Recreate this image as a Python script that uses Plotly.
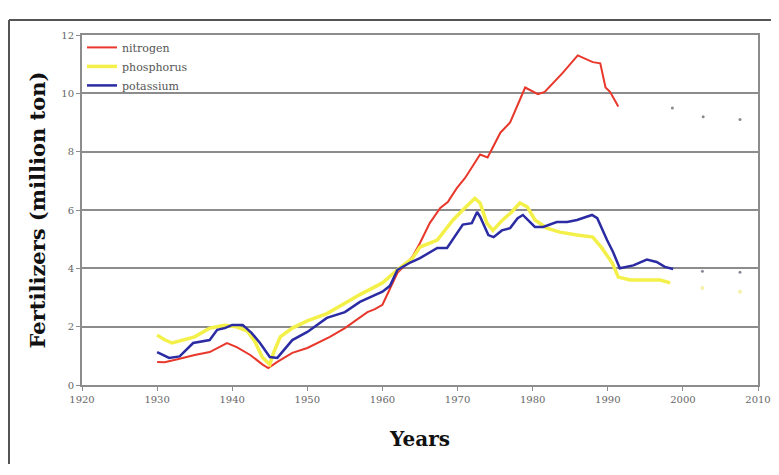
import plotly.graph_objects as go

# ---- data ----
n_years = [1930, 1931, 1933, 1935, 1937, 1939.3, 1940.6, 1942.4, 1944.1, 1944.8, 1946, 1948, 1950,
           1953, 1955, 1958, 1959, 1960, 1961, 1962, 1963, 1964, 1965, 1966.3, 1967.7, 1968.7, 1969.9,
           1971, 1972, 1973, 1974, 1975.7, 1977, 1979, 1980.7, 1981.6, 1984, 1986, 1988, 1989,
           1989.7, 1990.3, 1991.4]
n_vals = [0.79, 0.78, 0.9, 1.03, 1.13, 1.44, 1.3, 1.03, 0.69, 0.58, 0.79, 1.1, 1.27,
          1.65, 1.95, 2.5, 2.6, 2.75, 3.3, 3.85, 4.1, 4.4, 4.87, 5.55, 6.07, 6.27, 6.75,
          7.1, 7.5, 7.9, 7.8, 8.65, 9.0, 10.2, 9.97, 10.05, 10.7, 11.3, 11.07, 11.03,
          10.2, 10.05, 9.55]
n_pt_years = [1998.6, 2002.7, 2007.6]
n_pt_vals = [9.5, 9.2, 9.1]

p_years = [1930, 1931, 1932, 1933, 1935, 1937, 1939, 1940.5, 1942, 1943, 1944, 1945, 1945.5, 1946.4,
           1948, 1950, 1952.6, 1955, 1957, 1960, 1962, 1964, 1965, 1967.3, 1969.4, 1970.7, 1972.3,
           1973, 1973.9, 1974.7, 1976, 1977.2, 1978.3, 1979.3, 1980.3, 1981.9, 1983.6, 1985.9,
           1988, 1989.2, 1990.6, 1991.4, 1993, 1997, 1998.3]
p_vals = [1.71, 1.55, 1.44, 1.5, 1.65, 1.95, 2.05, 2.0, 1.85, 1.5, 0.95, 0.7, 1.1, 1.65,
          1.95, 2.2, 2.45, 2.8, 3.1, 3.5, 3.95, 4.35, 4.73, 4.97, 5.66, 6.0, 6.4,
          6.24, 5.55, 5.3, 5.66, 5.93, 6.24, 6.1, 5.66, 5.38, 5.24, 5.14,
          5.07, 4.7, 4.18, 3.7, 3.6, 3.6, 3.5]
p_pt_years = [2002.6, 2007.6]
p_pt_vals = [3.33, 3.2]

k_years = [1930, 1931.6, 1933, 1934.8, 1937, 1938, 1939, 1940, 1941.4, 1942.6, 1943.7, 1945, 1946,
           1948, 1950, 1952.6, 1955, 1957, 1960, 1961, 1962, 1963.7, 1965, 1967.3, 1968.6, 1970.7,
           1971.9, 1972.6, 1973, 1974.1, 1974.8, 1975.9, 1977, 1978, 1978.7, 1980.3, 1981.4,
           1983.2, 1984.6, 1985.9, 1987.9, 1988.6, 1989.9, 1990.7, 1991.6, 1993.4, 1995.2,
           1996.5, 1997.6, 1998.7]
k_vals = [1.13, 0.93, 0.98, 1.44, 1.54, 1.89, 1.95, 2.06, 2.06, 1.78, 1.44, 0.96, 0.93,
          1.54, 1.82, 2.3, 2.5, 2.85, 3.2, 3.4, 3.95, 4.2, 4.35, 4.7, 4.7, 5.5,
          5.55, 5.93, 5.77, 5.14, 5.07, 5.3, 5.38, 5.72, 5.83, 5.42, 5.42,
          5.59, 5.59, 5.66, 5.83, 5.72, 4.97, 4.56, 4.0, 4.1, 4.3,
          4.22, 4.05, 3.98]
k_pt_years = [2002.6, 2007.6]
k_pt_vals = [3.9, 3.87]

x_ticks = [1920, 1930, 1940, 1950, 1960, 1970, 1980, 1990, 2000, 2010]
y_ticks = [0, 2, 4, 6, 8, 10, 12]

SERIF = "DejaVu Serif, Liberation Serif, serif"

fig = go.Figure()
fig.add_trace(go.Scatter(x=n_years, y=n_vals, mode="lines", name="nitrogen",
                         line=dict(color="#e8372b", width=2)))
fig.add_trace(go.Scatter(x=p_years, y=p_vals, mode="lines", name="phosphorus",
                         line=dict(color="#f4f04a", width=3.5)))
fig.add_trace(go.Scatter(x=k_years, y=k_vals, mode="lines", name="potassium",
                         line=dict(color="#2b2ba3", width=2.5)))
fig.add_trace(go.Scatter(x=n_pt_years, y=n_pt_vals, mode="markers", showlegend=False,
                         marker=dict(color="#8a8a8a", size=3)))
fig.add_trace(go.Scatter(x=p_pt_years, y=p_pt_vals, mode="markers", showlegend=False,
                         marker=dict(color="#f4f2a8", size=4)))
fig.add_trace(go.Scatter(x=k_pt_years, y=k_pt_vals, mode="markers", showlegend=False,
                         marker=dict(color="#8a8a9a", size=3)))

# outer frame (page pixel -> paper conversion; plot area on page is x 82..758, y 35..385)
def px(xp):
    return (xp - 82) / 676.0

def py(yp):
    return (385 - yp) / 350.0

shapes = [
    dict(type="line", xref="paper", yref="paper", x0=px(9), x1=px(9), y0=py(20), y1=py(464),
         line=dict(color="#555555", width=2)),
    dict(type="line", xref="paper", yref="paper", x0=px(9), x1=px(790), y0=py(20), y1=py(20),
         line=dict(color="#555555", width=2)),
]

# the page body has an 8px margin, so figure coords = page coords - 8
fig.update_layout(
    width=779, height=475,
    margin=dict(l=74, r=29, t=27, b=98),
    paper_bgcolor="white", plot_bgcolor="white",
    shapes=shapes,
    showlegend=True,
    legend=dict(x=0.0, y=1.006, xanchor="left", yanchor="top", bgcolor="rgba(0,0,0,0)",
                font=dict(family=SERIF, size=11, color="#555555"),
                tracegroupgap=0, itemwidth=30),
    xaxis=dict(range=[1920, 2010], tickvals=x_ticks, ticktext=[str(v) for v in x_ticks],
               showgrid=False, zeroline=False, automargin=False,
               showline=True, linecolor="#8c8c8c", linewidth=2, mirror=True,
               ticks="outside", ticklen=4, tickcolor="#8c8c8c",
               tickfont=dict(family=SERIF, size=10, color="#666666"),
               title=dict(text="<b>Years</b>", font=dict(family=SERIF, size=20, color="#111111"),
                          standoff=28)),
    yaxis=dict(range=[0, 12], tickvals=y_ticks, ticktext=[str(v) for v in y_ticks],
               showgrid=True, gridcolor="#8c8c8c", gridwidth=2, zeroline=False, automargin=False,
               showline=True, linecolor="#8c8c8c", linewidth=2, mirror=True,
               ticks="outside", ticklen=4, tickcolor="#8c8c8c",
               tickfont=dict(family=SERIF, size=10, color="#666666"),
               title=dict(text="<b>Fertilizers (million ton)</b>",
                          font=dict(family=SERIF, size=21, color="#111111"), standoff=10)),
)

fig.write_html("out.html")
